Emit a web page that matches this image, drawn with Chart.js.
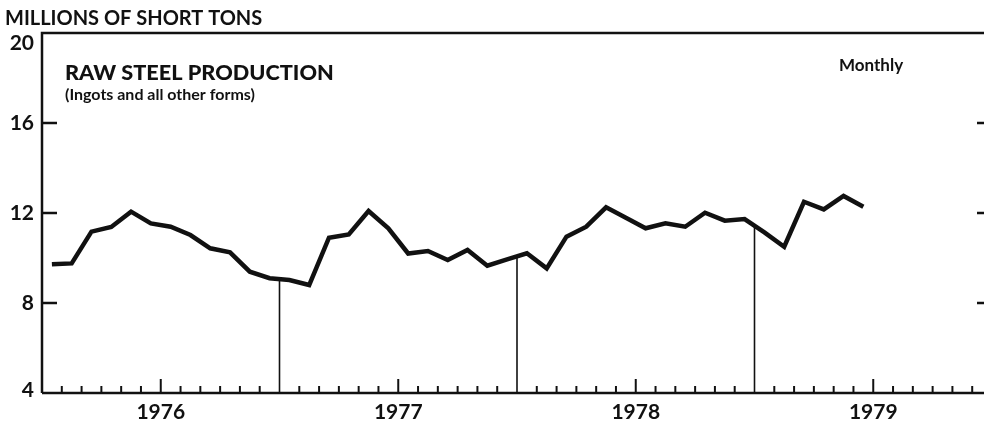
<!DOCTYPE html>
<html>
<head>
<meta charset="utf-8">
<script src="https://cdn.jsdelivr.net/npm/chart.js@4.4.0/dist/chart.umd.min.js"></script>
<style>
  html, body { margin: 0; padding: 0; background: #fff; overflow: hidden; }
  #wrap { position: relative; width: 994px; height: 423px; }
</style>
</head>
<body>
<div id="wrap"><canvas id="chart1"></canvas></div>
<script>
  "use strict";

  // data: monthly raw steel production, millions of short tons, Jan 1976 - Jun 1979
  var years = ['1976', '1977', '1978', '1979'];
  var yTicks = [4, 8, 12, 16, 20];
  var production = [
    9.72, 9.76, 11.17, 11.38, 12.06, 11.54, 11.39, 11.02, 10.43, 10.25, 9.39, 9.10,
    9.02, 8.80, 10.90, 11.05, 12.09, 11.32, 10.20, 10.31, 9.91, 10.36, 9.66, 9.94,
    10.21, 9.54, 10.95, 11.39, 12.25, 11.79, 11.32, 11.54, 11.39, 12.01, 11.66, 11.73,
    11.14, 10.50, 12.50, 12.16, 12.76, 12.28
  ];

  var FONT = 'Lato, "DejaVu Sans", sans-serif';
  var INK = '#111';

  var points = production.map(function (v, i) {
    return { x: i + 0.5, y: v };
  });

  // axes, ticks, drop lines and text
  var decor = {
    id: 'decor',
    afterDraw: function (chart) {
      var c = chart.ctx;
      var a = chart.chartArea;
      var xs = chart.scales.x;
      var ys = chart.scales.y;
      c.save();
      c.strokeStyle = INK;
      c.fillStyle = INK;

      // frame: left, top, bottom
      c.lineWidth = 2.5;
      c.beginPath();
      c.moveTo(a.left, a.bottom);
      c.lineTo(a.left, a.top);
      c.lineTo(a.right, a.top);
      c.moveTo(a.left, a.bottom);
      c.lineTo(a.right, a.bottom);
      c.stroke();

      // y ticks, inward on both sides
      yTicks.forEach(function (t) {
        if (t === yTicks[0] || t === yTicks[yTicks.length - 1]) return;
        var py = ys.getPixelForValue(t);
        c.beginPath();
        c.moveTo(a.left, py); c.lineTo(a.left + 15, py);
        c.moveTo(a.right, py); c.lineTo(a.right - 15, py);
        c.stroke();
      });

      // y labels
      c.font = 'bold 21px ' + FONT;
      c.textAlign = 'right';
      c.textBaseline = 'middle';
      yTicks.forEach(function (t) {
        var py = ys.getPixelForValue(t);
        py = Math.max(py, a.top + 10);
        py = Math.min(py, a.bottom - 3);
        c.fillText(String(t), 34, py);
      });

      // month ticks on the bottom axis
      c.lineWidth = 2;
      for (var m = 1; m < years.length * 12; m++) {
        if (m % 12 === 0) continue;
        var px = xs.getPixelForValue(m);
        var len = (m % 12 === 6) ? 14 : 7;
        c.beginPath();
        c.moveTo(px, a.bottom); c.lineTo(px, a.bottom - len);
        c.stroke();
      }

      // year labels
      c.font = 'bold 21px ' + FONT;
      c.textAlign = 'center';
      c.textBaseline = 'alphabetic';
      years.forEach(function (y, i) {
        c.fillText(y, xs.getPixelForValue(i * 12 + 6), 419);
      });

      // drop lines at year ends, from the series down to the axis
      c.lineWidth = 1.6;
      for (var k = 12; k < production.length; k += 12) {
        var v = (production[k - 1] + production[k]) / 2;
        var bx = xs.getPixelForValue(k);
        c.beginPath();
        c.moveTo(bx, ys.getPixelForValue(v));
        c.lineTo(bx, a.bottom);
        c.stroke();
      }

      // titles
      c.textAlign = 'left';
      c.font = 'bold 20px ' + FONT;
      c.fillText('MILLIONS OF SHORT TONS', 5, 25);
      c.font = '900 21.7px ' + FONT;
      c.fillText('RAW STEEL PRODUCTION', 65, 80);
      c.font = 'bold 16px ' + FONT;
      c.fillText('(Ingots and all other forms)', 65, 100);
      c.font = 'bold 17px ' + FONT;
      c.fillText('Monthly', 839, 71);
      c.restore();
    }
  };

  var ctx = document.getElementById('chart1').getContext('2d');

  var myChart = new Chart(ctx, {
    type: 'line',
    data: {
      datasets: [{
        label: 'Raw steel production',
        data: points,
        borderColor: INK,
        borderWidth: 4.5,
        borderJoinStyle: 'miter',
        pointRadius: 0,
        tension: 0,
        fill: false
      }]
    },
    options: {
      responsive: true,
      maintainAspectRatio: false,
      animation: false,
      layout: {
        padding: { left: 42, right: 2, top: 33, bottom: 30 }
      },
      plugins: {
        legend: { display: false },
        tooltip: { enabled: false }
      },
      scales: {
        x: { type: 'linear', min: 0, max: years.length * 12, display: false },
        y: { min: yTicks[0], max: yTicks[yTicks.length - 1], display: false }
      }
    },
    plugins: [decor]
  });
</script>
</body>
</html>
